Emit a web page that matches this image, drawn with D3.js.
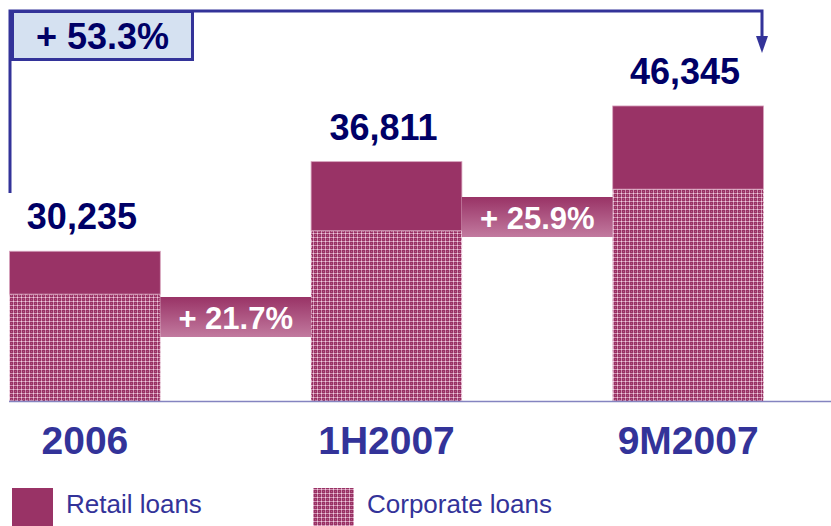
<!DOCTYPE html>
<html>
<head>
<meta charset="utf-8">
<script src="https://cdn.jsdelivr.net/npm/d3@7"></script>
<style>
  html, body { margin: 0; padding: 0; background: #ffffff; }
  svg { display: block; font-family: "Liberation Sans", Arial, sans-serif; }
</style>
</head>
<body>
<svg id="chart" width="831" height="526"></svg>
<script>
// ---- data ----
const categories = ["2006", "1H2007", "9M2007"];
const retailLoans = [6700, 10800, 13000];
const corporateLoans = [16700, 26600, 33100];
const totalLabels = ["30,235", "36,811", "46,345"];
const growthLabels = ["+ 21.7%", "+ 25.9%"];
const totalGrowthLabel = "+ 53.3%";
const seriesNames = ["Retail loans", "Corporate loans"];

// ---- layout ----
const W = 831, H = 526;
const baseY = 401;
const svg = d3.select("#chart");

const x = d3.scaleBand().domain(categories).range([9.5, 763.5]).paddingInner(0.5).paddingOuter(0);
const y = d3.scaleLinear().domain([0, 50000]).range([baseY, 81]);

const retailColor = "#993366";
const navy = "#000066";
const blue = "#333399";

// ---- defs ----
const defs = svg.append("defs");
const pat = defs.append("pattern").attr("id", "corp").attr("patternUnits", "userSpaceOnUse")
  .attr("width", 4).attr("height", 4);
pat.append("rect").attr("width", 4).attr("height", 4).attr("fill", "#983163");
pat.append("rect").attr("x", 1).attr("y", 0).attr("width", 1).attr("height", 4).attr("fill", "#cf8fb0");
pat.append("rect").attr("x", 0).attr("y", 1).attr("width", 4).attr("height", 1).attr("fill", "#cf8fb0");
pat.append("rect").attr("x", 1).attr("y", 1).attr("width", 1).attr("height", 1).attr("fill", "#efd0e0");
pat.append("rect").attr("x", 3).attr("y", 3).attr("width", 1).attr("height", 1).attr("fill", "#b25583");

const grad = defs.append("linearGradient").attr("id", "growthGrad")
  .attr("x1", 0).attr("y1", 0).attr("x2", 0).attr("y2", 1);
grad.append("stop").attr("offset", "0%").attr("stop-color", "#993366");
grad.append("stop").attr("offset", "100%").attr("stop-color", "#c27a9f");

// ---- bars ----
const rows = categories.map((c, i) => ({ c, r: retailLoans[i], k: corporateLoans[i], label: totalLabels[i] }));

svg.append("g").selectAll("rect").data(rows).join("rect")
  .attr("x", d => x(d.c)).attr("width", x.bandwidth())
  .attr("y", d => y(d.k)).attr("height", d => baseY - y(d.k))
  .attr("fill", "url(#corp)")
  .attr("stroke", "#f4dce8").attr("stroke-width", 1).attr("stroke-dasharray", "3,2");

svg.append("g").selectAll("rect").data(rows).join("rect")
  .attr("x", d => x(d.c)).attr("width", x.bandwidth())
  .attr("y", d => y(d.k + d.r)).attr("height", d => y(d.k) - y(d.k + d.r))
  .attr("fill", retailColor)
  .attr("stroke", "#d7a3bd").attr("stroke-width", 0.8);

// total labels
svg.append("g").selectAll("text").data(rows).join("text")
  .attr("x", d => x(d.c) + x.bandwidth() / 2 - 3)
  .attr("y", d => y(d.k + d.r) - 22)
  .attr("text-anchor", "middle")
  .attr("font-size", 36).attr("font-weight", "bold").attr("fill", navy)
  .text(d => d.label);

// ---- axis ----
svg.append("line").attr("x1", 9).attr("x2", W).attr("y1", baseY + 0.5).attr("y2", baseY + 0.5)
  .attr("stroke", "#8484c0").attr("stroke-width", 1.6);

const axis = svg.append("g").attr("transform", `translate(0,${baseY})`)
  .call(d3.axisBottom(x).tickSize(0).tickPadding(25));
axis.select(".domain").remove();
axis.selectAll("text")
  .attr("font-family", "'Liberation Sans', Arial, sans-serif")
  .attr("font-size", 39).attr("font-weight", "bold").attr("fill", blue);

// ---- growth boxes ----
const growthY = [297, 197];
growthLabels.forEach((g, i) => {
  const x0 = x(categories[i]) + x.bandwidth();
  const x1 = x(categories[i + 1]);
  svg.append("rect").attr("x", x0).attr("y", growthY[i]).attr("width", x1 - x0).attr("height", 40)
    .attr("fill", "url(#growthGrad)");
  svg.append("text").attr("x", (x0 + x1) / 2).attr("y", growthY[i] + 32)
    .attr("text-anchor", "middle").attr("font-size", 31).attr("font-weight", "bold")
    .attr("fill", "#ffffff").text(g);
});

// ---- overall bracket ----
const lx = x(categories[0]) + 0.5;
const rx = x(categories[2]) + x.bandwidth() - 1.5;
const topY = 11;
svg.append("path")
  .attr("d", `M${lx},193 L${lx},${topY} L${rx},${topY} L${rx},38`)
  .attr("fill", "none").attr("stroke", blue).attr("stroke-width", 3);
svg.append("path")
  .attr("d", `M${rx - 6},36 L${rx + 6},36 L${rx},53 Z`)
  .attr("fill", blue);
svg.append("rect").attr("x", 12.5).attr("y", 11.5).attr("width", 180).attr("height", 48)
  .attr("fill", "#d5e1f1").attr("stroke", blue).attr("stroke-width", 3);
svg.append("text").attr("x", 102.5).attr("y", 49).attr("text-anchor", "middle")
  .attr("font-size", 36).attr("font-weight", "bold").attr("fill", navy).text(totalGrowthLabel);

// ---- legend ----
const legendX = [12, 313];
seriesNames.forEach((n, i) => {
  svg.append("rect").attr("x", legendX[i]).attr("y", 488).attr("width", 41).attr("height", 41)
    .attr("fill", i === 0 ? retailColor : "url(#corp)");
  svg.append("text").attr("x", legendX[i] + 54).attr("y", 513)
    .attr("font-size", 26).attr("fill", blue).text(n);
});
</script>
</body>
</html>
